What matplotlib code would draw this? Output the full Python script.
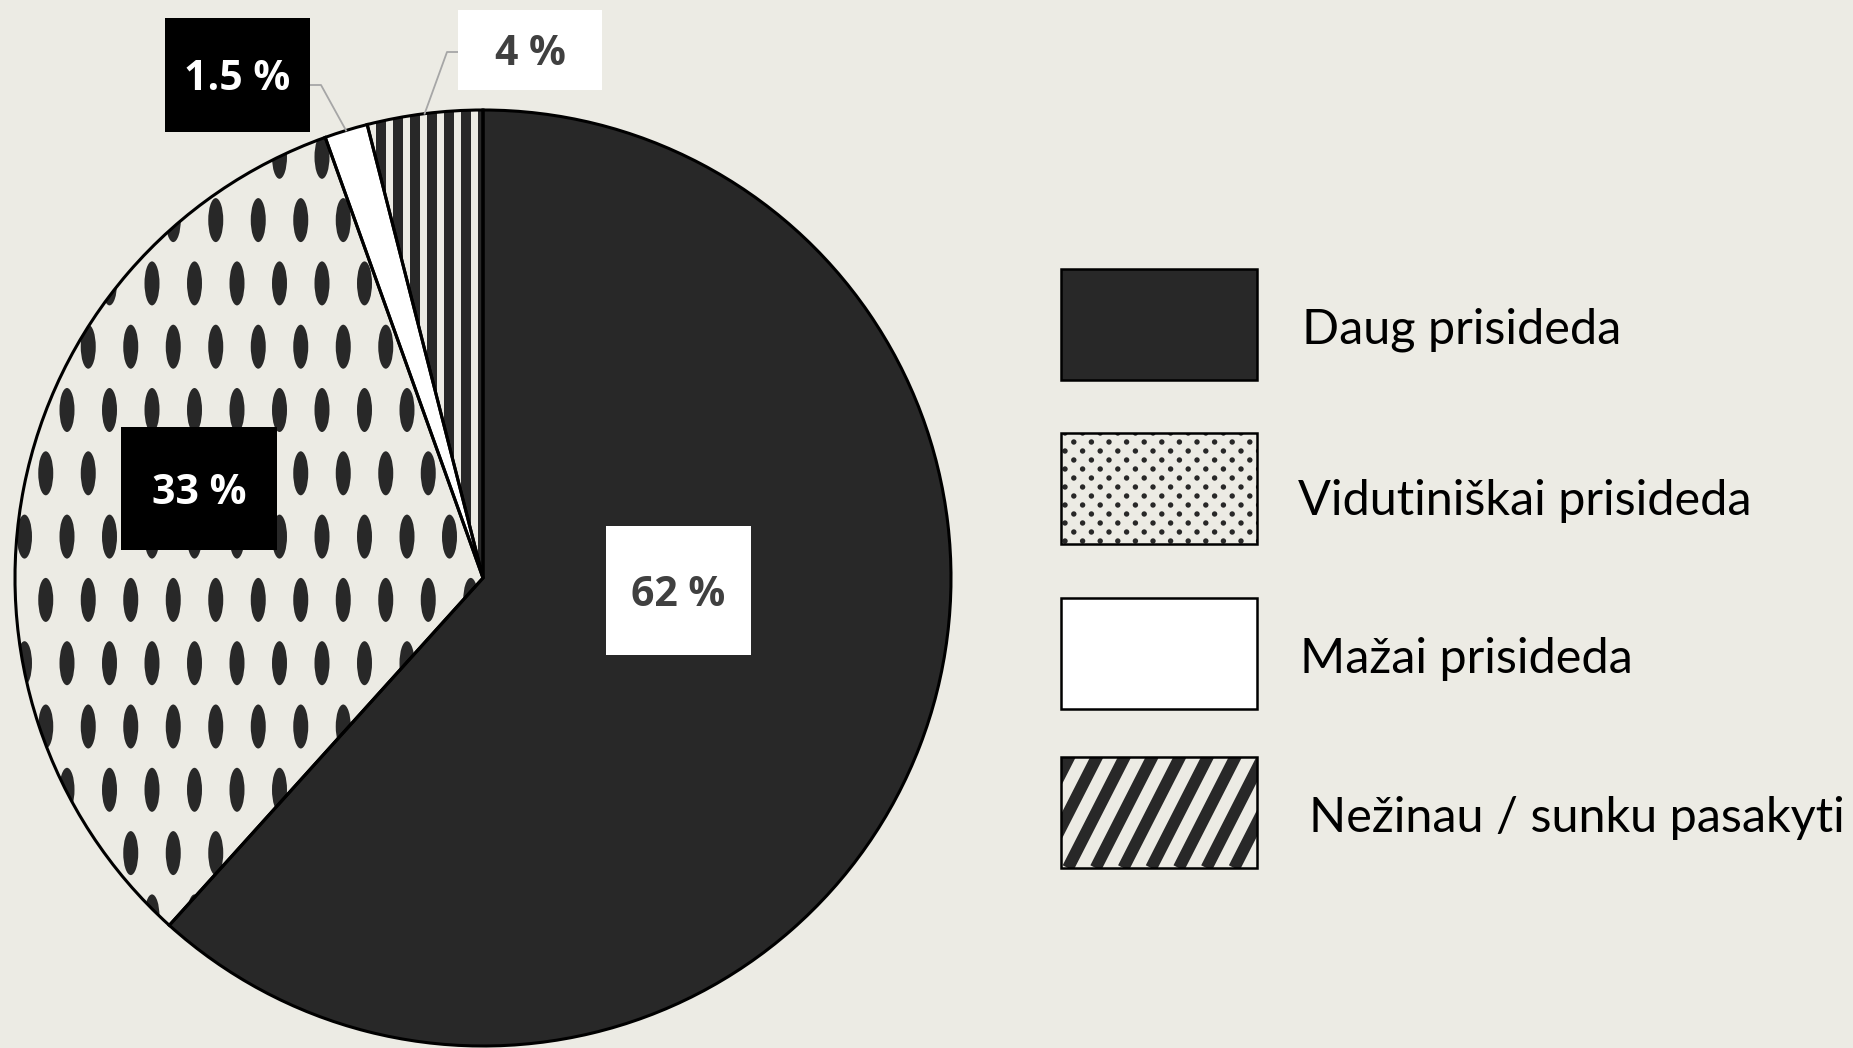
import numpy as np
import matplotlib.pyplot as plt
from matplotlib.patches import Rectangle, Ellipse, Circle, Wedge
from matplotlib.collections import PatchCollection, LineCollection

plt.rcParams['font.family'] = ['Lato', 'DejaVu Sans']

categories = ['Daug prisideda', 'Vidutiniškai prisideda', 'Mažai prisideda',
              'Nežinau / sunku pasakyti']
shares = [62, 33, 1.5, 4]
labels = [f'{v:g} %' for v in shares]

W, H = 1853, 1048
BG = '#ECEBE4'
DARK = '#282828'
GREY_TXT = '#404040'


def Y(y):
    # layout measured top-down in pixels
    return H - y


def add_clipped(coll, clip):
    ax.add_collection(coll)
    coll.set_clip_path(clip)  # after add_collection, or the axes patch wins


fig = plt.figure(figsize=(W / 100, H / 100), dpi=100, facecolor=BG)
ax = fig.add_axes([0, 0, 1, 1])
ax.set_facecolor(BG)

cx, cy, r = 483, Y(578), 468
wedges, _ = ax.pie(shares, colors=[DARK, BG, 'white', BG], startangle=90,
                   counterclock=False, center=(cx, cy), radius=r,
                   wedgeprops=dict(linewidth=0))
ax.set_xlim(0, W)
ax.set_ylim(0, H)
ax.axis('off')

# big oval dots in the second slice
ells = []
for k in range(-6, 11):
    yy = 410 + 63.3 * k
    off = 24.5 if k % 2 == 0 else 3.25
    for j in range(0, 14):
        ells.append(Ellipse((off + 42.5 * j, Y(yy)), 15, 44))
add_clipped(PatchCollection(ells, facecolor=DARK, edgecolor='none', zorder=2),
            wedges[1])

# vertical stripes in the last slice
strips = [Rectangle((376 + 17 * k, cy), 9.5, r + 10) for k in range(-8, 8)]
add_clipped(PatchCollection(strips, facecolor=DARK, edgecolor='none', zorder=2),
            wedges[3])

for w in wedges:
    ax.add_patch(Wedge((cx, cy), r, w.theta1, w.theta2, fill=False,
                       edgecolor='black', linewidth=2.2, zorder=3))

# value labels
boxes = [  # centre x, centre y (top-down), width, height, face, text colour
    (678.5, 590.5, 145, 129, 'white', GREY_TXT),
    (199, 488.5, 156, 123, 'black', 'white'),
    (237.5, 75, 145, 114, 'black', 'white'),
    (530, 50, 144, 80, 'white', GREY_TXT),
]
for lab, (bx, by, bw, bh, fc, tc) in zip(labels, boxes):
    ax.add_patch(Rectangle((bx - bw / 2, Y(by + bh / 2)), bw, bh,
                           facecolor=fc, edgecolor='none', zorder=4))
    ax.text(bx, Y(by + 15), lab, ha='center', va='baseline', fontsize=29.5,
            fontweight='bold', family='Open Sans', color=tc, zorder=5)

# leader lines for the small slices
for i, (ex, ey) in [(2, (321, 85)), (3, (447, 52))]:
    w = wedges[i]
    mid = np.deg2rad((w.theta1 + w.theta2) / 2)
    px, py = cx + r * np.cos(mid), cy + r * np.sin(mid)
    bx, by, bw, bh = boxes[i][:4]
    edge = bx + bw / 2 if ex > bx else bx - bw / 2
    ax.plot([px, ex, edge], [py, Y(ey), Y(ey)], color='#A6A6A6', lw=1.3,
            zorder=3.5)

# legend
lx, lw_, lh = 1061, 196, 111
tops = [269, 433, 598, 757]
bases = [343, 515, 673, 832]
text_x = [1302, 1298, 1300, 1309]
faces = [DARK, BG, 'white', BG]
for i, (name, t, b, tx, fc) in enumerate(zip(categories, tops, bases, text_x, faces)):
    x0, y0 = lx, Y(t + lh)
    rect = Rectangle((x0, y0), lw_, lh, facecolor=fc, edgecolor='none', zorder=2)
    ax.add_patch(rect)
    if i == 1:
        dots = []
        for k in range(-1, 14):
            yy = y0 + 3 + 9 * k
            off = 4 if k % 2 == 0 else 12.8
            for j in range(-1, 13):
                dots.append(Circle((x0 + off + 17.6 * j, yy), 2.7))
        add_clipped(PatchCollection(dots, facecolor=DARK, edgecolor='none',
                                    zorder=2.5), rect)
    if i == 3:
        ang = np.deg2rad(63)
        segs = []
        for k in range(-6, 9):
            sx = x0 + 7 + 27.7 * k
            segs.append([(sx, y0), (sx + 200 * np.cos(ang), y0 + 200 * np.sin(ang))])
        add_clipped(LineCollection(segs, colors=DARK, linewidths=8.6,
                                   zorder=2.5), rect)
    ax.add_patch(Rectangle((x0, y0), lw_, lh, fill=False, edgecolor='black',
                           linewidth=1.8, zorder=3))
    ax.text(tx, Y(b), name, ha='left', va='baseline', fontsize=35,
            color='black')

fig.savefig('out.png', dpi=100, facecolor=BG)
